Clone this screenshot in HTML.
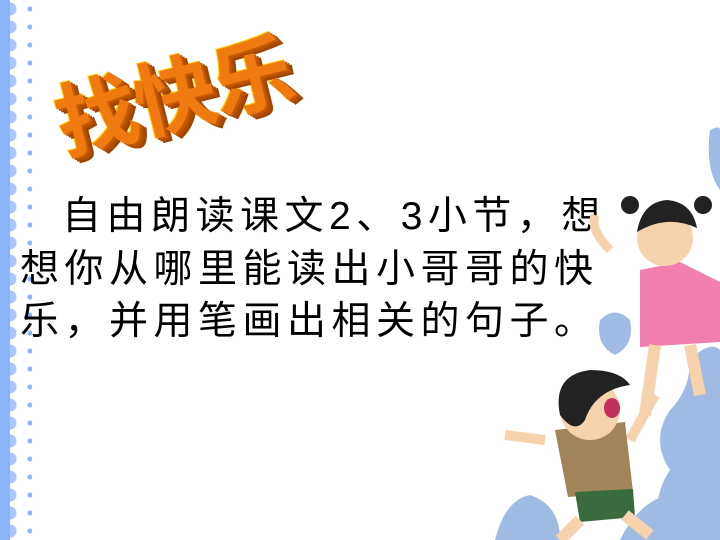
<!DOCTYPE html>
<html><head><meta charset="utf-8"><style>
html,body{margin:0;padding:0}
body{width:720px;height:540px;position:relative;overflow:hidden;background:#fff;font-family:"Liberation Sans","Noto Sans CJK SC",sans-serif}
.stripe{position:absolute;left:0;top:0;width:10px;height:540px;background:#8ab4f8}
.lace{position:absolute;left:10px;top:0;width:22px;height:540px;
background:radial-gradient(circle at 0 9px,#a9c6fa 6px,transparent 7px) 0 0/22px 18px repeat-y,
radial-gradient(circle at 20px 9px,#8ab4f8 2px,transparent 3px) 0 0/22px 18px repeat-y}
.title{position:absolute;left:48px;top:88px;font-size:82px;font-weight:bold;color:#f07a10;
transform:rotate(-14deg);transform-origin:left top;letter-spacing:-2px;line-height:1;
text-shadow:2px 2px 0 #c55a00,4px 4px 0 #b04d00,6px 6px 0 #a04500,-1px -1px 0 #ffd000}
.line{position:absolute;font-size:39px;color:#000;letter-spacing:5.5px;white-space:nowrap;line-height:1}
</style></head><body>
<div class="stripe"></div>
<div class="lace"></div>
<div class="title">找快乐</div>
<div class="line" style="left:62px;top:197px">自由朗读课文2、3小节，想</div>
<div class="line" style="left:20px;top:250px">想你从哪里能读出小哥哥的快</div>
<div class="line" style="left:20px;top:302px">乐，并用笔画出相关的句子。</div>
<svg width="720" height="540" style="position:absolute;left:0;top:0">
<g fill="#8fb0e0" opacity="0.85">
<path d="M690 360 q20-20 30-10 v190 h-60 q-10-40 10-70 q-20-30 0-60 q20-20 20-50z"/>
<path d="M600 320 q15-15 30 0 q5 25-15 35 q-20-10-15-35z"/>
<path d="M495 540 q10-40 35-45 q30 10 30 45z"/>
<path d="M620 540 q20-40 50-45 q30 20 30 45z"/>
<path d="M710 130 q10-5 10 0 v60 q-15-20-10-60z"/>
</g>
<path d="M610 250 q-20-20-15-35" stroke="#f6d3ad" stroke-width="9" fill="none"/>
<path d="M640 270 l40-8 l40 20 v60 l-80 5 z" fill="#f07fae"/>
<path d="M655 345 l-10 70 M690 345 l10 50" stroke="#f6d3ad" stroke-width="12"/>
<circle cx="665" cy="238" r="28" fill="#f6d3ad"/>
<path d="M637 232 q5-30 30-32 q25 2 30 28 q-30-14-60 4z" fill="#222"/>
<circle cx="630" cy="205" r="9" fill="#222"/><circle cx="703" cy="205" r="9" fill="#222"/>
<path d="M545 440 l-40-5 M630 440 l25-45" stroke="#f6d3ad" stroke-width="10"/>
<path d="M555 430 l70-8 l8 70 l-65 5 z" fill="#a2845a"/>
<path d="M575 492 l58-3 l2 28 l-55 5 z" fill="#3a6a40"/>
<path d="M580 520 l-20 20 M625 515 l25 20" stroke="#f6d3ad" stroke-width="12"/>
<circle cx="590" cy="410" r="30" fill="#f6d3ad"/>
<path d="M560 415 q-8-40 30-45 q30 0 40 15 q-35 5-45 35 q-10 15-25-5z" fill="#222"/>
<ellipse cx="612" cy="408" rx="8" ry="10" fill="#c0305a"/>
</svg>
</body></html>
